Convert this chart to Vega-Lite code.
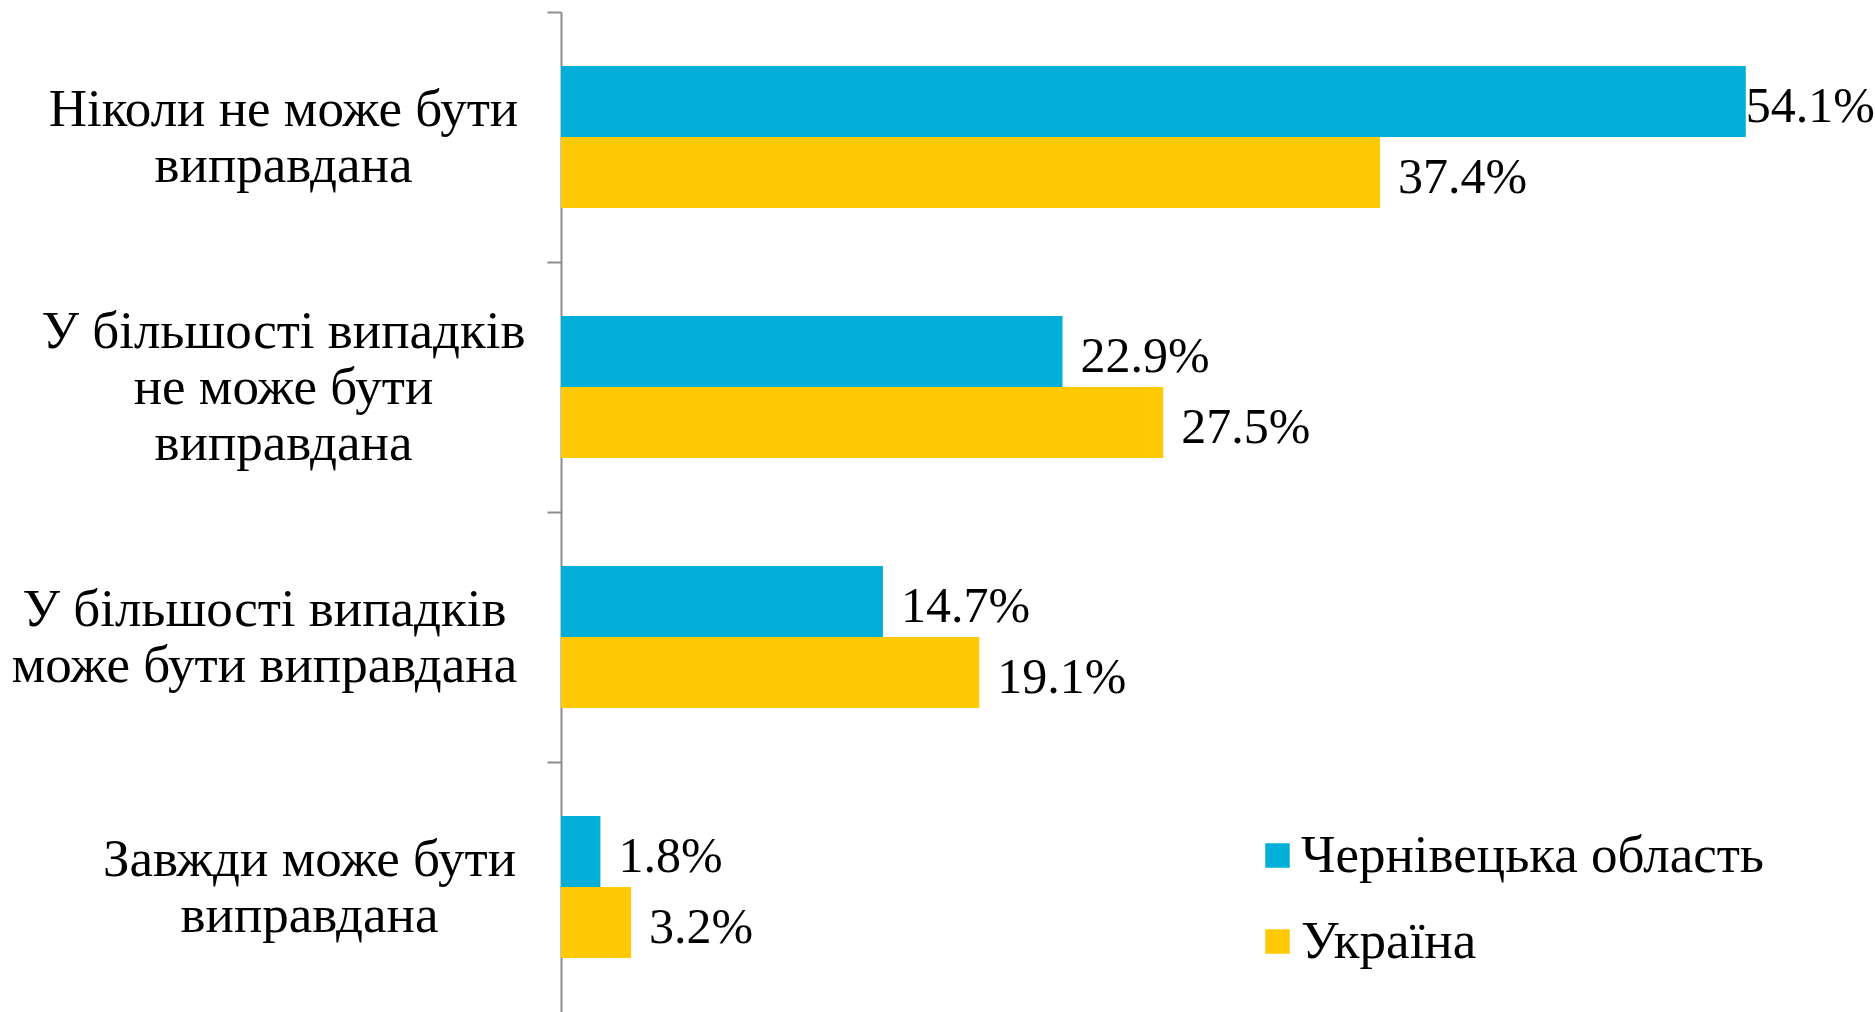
{
  "$schema": "https://vega.github.io/schema/vega-lite/v6.json",
  "width": 1314,
  "height": 1000,
  "autosize": {"type": "none"},
  "padding": {"left": 561, "top": 12, "right": 0, "bottom": 0},
  "background": "#ffffff",
  "config": {"view": {"stroke": null}, "font": "Liberation Serif"},
  "data": {
    "values": [
      {"cat": "Ніколи не може бути виправдана", "region": "Чернівецька область", "v": 54.1, "lbl": "54.1%"},
      {"cat": "Ніколи не може бути виправдана", "region": "Україна", "v": 37.4, "lbl": "37.4%"},
      {"cat": "У більшості випадків не може бути виправдана", "region": "Чернівецька область", "v": 22.9, "lbl": "22.9%"},
      {"cat": "У більшості випадків не може бути виправдана", "region": "Україна", "v": 27.5, "lbl": "27.5%"},
      {"cat": "У більшості випадків може бути виправдана", "region": "Чернівецька область", "v": 14.7, "lbl": "14.7%"},
      {"cat": "У більшості випадків може бути виправдана", "region": "Україна", "v": 19.1, "lbl": "19.1%"},
      {"cat": "Завжди може бути виправдана", "region": "Чернівецька область", "v": 1.8, "lbl": "1.8%"},
      {"cat": "Завжди може бути виправдана", "region": "Україна", "v": 3.2, "lbl": "3.2%"}
    ]
  },
  "encoding": {
    "y": {
      "field": "cat",
      "type": "nominal",
      "sort": ["Ніколи не може бути виправдана", "У більшості випадків не може бути виправдана", "У більшості випадків може бути виправдана", "Завжди може бути виправдана"],
      "scale": {"paddingInner": 0.432, "paddingOuter": 0.216},
      "axis": {
        "title": null,
        "domainColor": "#8c8c8c",
        "domainWidth": 2,
        "tickColor": "#8c8c8c",
        "tickWidth": 2,
        "tickSize": 14,
        "tickOffset": -125,
        "labelOffset": {
          "condition": [
            {"test": "datum.value == 'У більшості випадків не може бути виправдана'", "value": 69}
          ],
          "value": 97
        },
        "labelFont": "Liberation Serif",
        "labelFontSize": 53,
        "labelColor": "#000000",
        "labelAlign": "center",
        "labelBaseline": "middle",
        "labelLineHeight": 56,
        "labelPadding": {
          "condition": [
            {"test": "datum.value == 'У більшості випадків може бути виправдана'", "value": 283},
            {"test": "datum.value == 'Завжди може бути виправдана'", "value": 238}
          ],
          "value": 264
        },
        "labelLimit": 0,
        "labelExpr": "datum.value == 'Ніколи не може бути виправдана' ? ['Ніколи не може бути', 'виправдана'] : datum.value == 'У більшості випадків не може бути виправдана' ? ['У більшості випадків', 'не може бути', 'виправдана'] : datum.value == 'У більшості випадків може бути виправдана' ? ['У більшості випадків', 'може бути виправдана'] : ['Завжди може бути', 'виправдана']"
      }
    },
    "x": {"field": "v", "type": "quantitative", "scale": {"domain": [0, 60]}, "axis": null},
    "yOffset": {"field": "region", "type": "nominal", "sort": ["Чернівецька область", "Україна"]}
  },
  "layer": [
    {
      "mark": {"type": "bar"},
      "encoding": {
        "color": {
          "field": "region",
          "type": "nominal",
          "sort": ["Чернівецька область", "Україна"],
          "scale": {"domain": ["Чернівецька область", "Україна"], "range": ["#03AED9", "#FFC906"]},
          "legend": {
            "title": null,
            "orient": "none",
            "legendX": 690,
            "legendY": 817,
            "symbolType": "square",
            "symbolSize": 600,
            "symbolStrokeWidth": 0,
            "labelFont": "Liberation Serif",
            "labelFontSize": 53,
            "labelColor": "#000000",
            "labelOffset": -3,
            "labelLimit": 0,
            "rowPadding": 32
          }
        }
      }
    },
    {
      "transform": [{"filter": "datum.v < 50"}],
      "mark": {"type": "text", "align": "left", "baseline": "middle", "dx": 18, "dy": 5, "font": "Liberation Serif", "fontSize": 50, "color": "#000000"},
      "encoding": {"text": {"field": "lbl"}}
    },
    {
      "transform": [{"filter": "datum.v >= 50"}],
      "mark": {"type": "text", "align": "left", "baseline": "middle", "dx": 0, "dy": 5, "font": "Liberation Serif", "fontSize": 50, "color": "#000000"},
      "encoding": {"text": {"field": "lbl"}}
    }
  ]
}
